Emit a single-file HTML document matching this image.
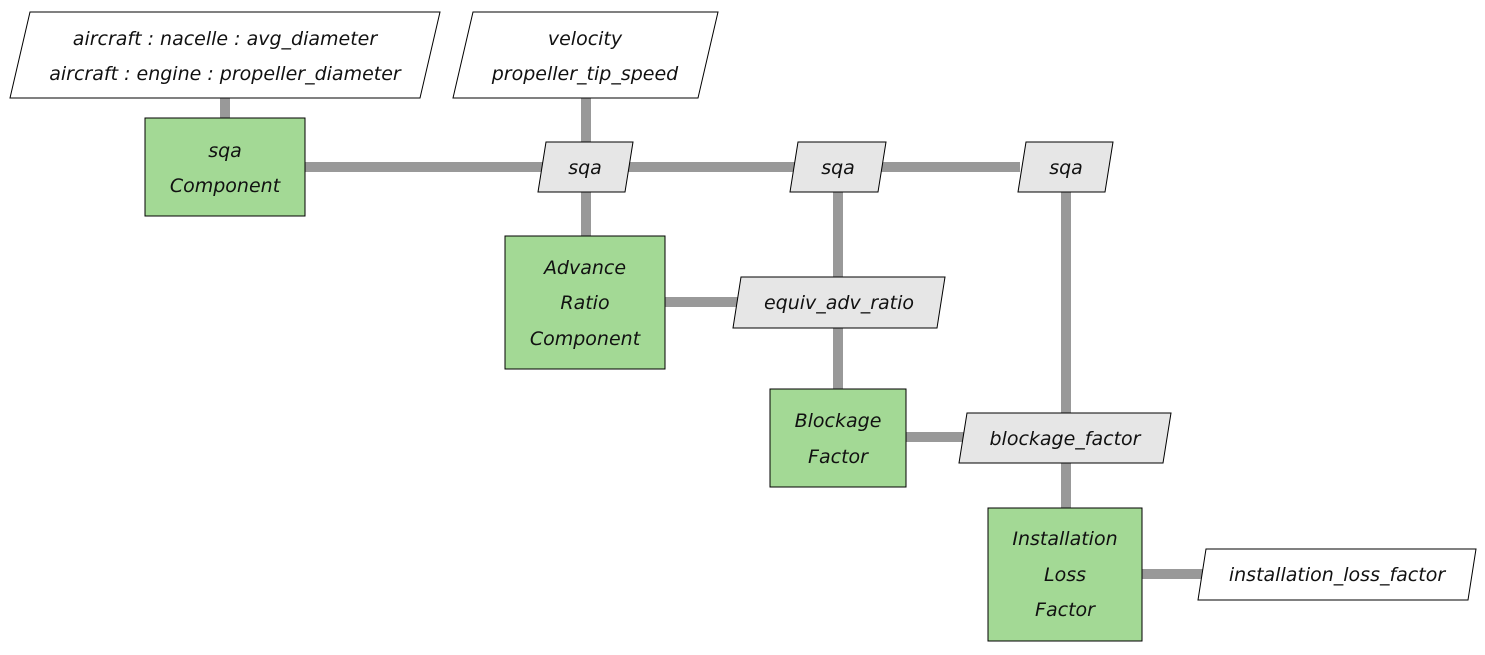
<!DOCTYPE html>
<html><head><meta charset="utf-8"><style>
html,body{margin:0;padding:0;background:#fff;}
svg text{font-family:"DejaVu Sans","Liberation Sans",sans-serif;font-style:italic;font-size:19px;fill:#111;text-anchor:middle;}
</style></head><body>
<svg width="1485" height="650" viewBox="0 0 1485 650" xmlns="http://www.w3.org/2000/svg">
<g stroke="#999" stroke-width="10" fill="none">
<line x1="225" y1="98" x2="225" y2="118"/>
<line x1="586" y1="98" x2="586" y2="236"/>
<line x1="305" y1="167" x2="1020" y2="167"/>
<line x1="838" y1="192" x2="838" y2="389"/>
<line x1="1066" y1="192" x2="1066" y2="508"/>
<line x1="665" y1="302" x2="740" y2="302"/>
<line x1="906" y1="437" x2="965" y2="437"/>
<line x1="1142" y1="574" x2="1205" y2="574"/>
</g>
<g stroke="#000" stroke-width="1">
<polygon points="30,12 440,12 420,98 10,98" fill="#fff"/>
<polygon points="473,12 718,12 698,98 453,98" fill="#fff"/>
<polygon points="546,142 633,142 625,192 538,192" fill="#e6e6e6"/>
<polygon points="798,142 886,142 878,192 790,192" fill="#e6e6e6"/>
<polygon points="1026,142 1113,142 1105,192 1018,192" fill="#e6e6e6"/>
<polygon points="741,277 945,277 937,328 733,328" fill="#e6e6e6"/>
<polygon points="967,413 1171,413 1163,463 959,463" fill="#e6e6e6"/>
<polygon points="1206,549 1476,549 1468,600 1198,600" fill="#fff"/>
<rect x="145" y="118" width="160" height="98" fill="#a3d995"/>
<rect x="505" y="236" width="160" height="133" fill="#a3d995"/>
<rect x="770" y="389" width="136" height="98" fill="#a3d995"/>
<rect x="988" y="508" width="154" height="133" fill="#a3d995"/>
</g>
<text x="225" y="45">aircraft : nacelle : avg_diameter</text>
<text x="225" y="80">aircraft : engine : propeller_diameter</text>
<text x="585" y="45">velocity</text>
<text x="585" y="80">propeller_tip_speed</text>
<text x="585" y="174">sqa</text>
<text x="838" y="174">sqa</text>
<text x="1066" y="174">sqa</text>
<text x="225" y="157">sqa</text>
<text x="225" y="192">Component</text>
<text x="585" y="274">Advance</text>
<text x="585" y="309">Ratio</text>
<text x="585" y="345">Component</text>
<text x="839" y="309">equiv_adv_ratio</text>
<text x="838" y="427">Blockage</text>
<text x="838" y="463">Factor</text>
<text x="1065" y="445">blockage_factor</text>
<text x="1065" y="545">Installation</text>
<text x="1065" y="581">Loss</text>
<text x="1065" y="616">Factor</text>
<text x="1337" y="581">installation_loss_factor</text>
</svg>
</body></html>
